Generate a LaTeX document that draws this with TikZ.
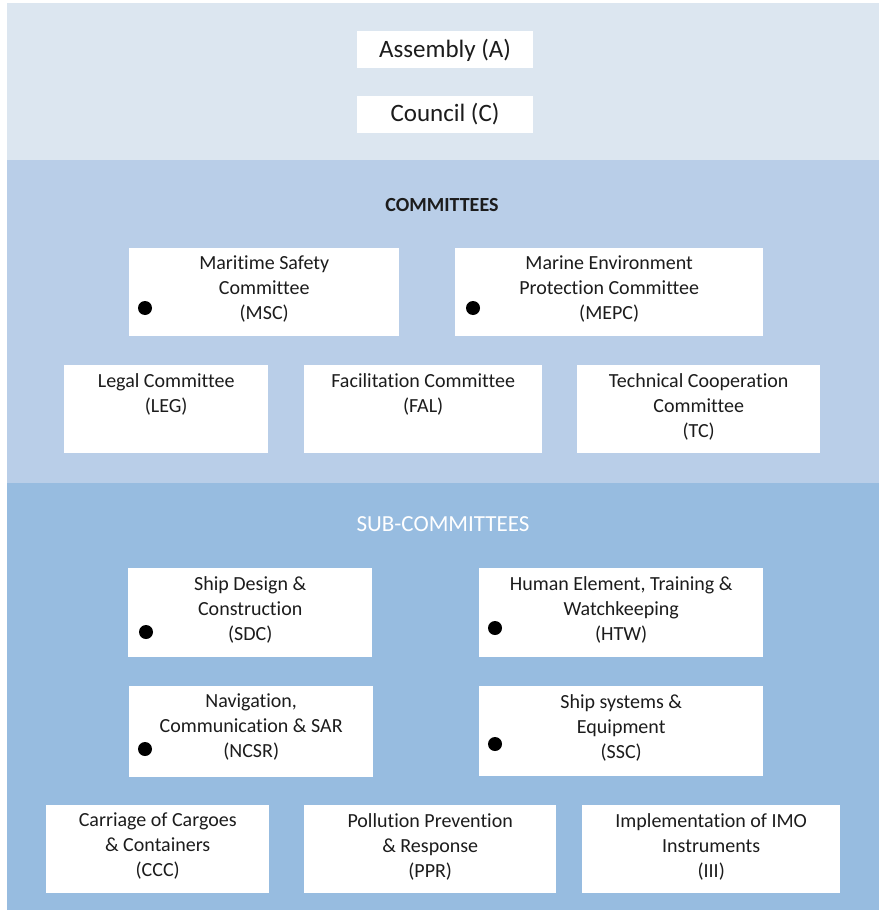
\documentclass[tikz,border=0pt]{standalone}
\usepackage{fontspec}
\setmainfont{Carlito}[Ligatures=NoCommon]
\usepackage{tikz}
\usetikzlibrary{positioning}
\definecolor{bandtop}{RGB}{220,230,240}
\definecolor{bandmid}{RGB}{185,206,232}
\definecolor{bandlow}{RGB}{151,188,224}
\definecolor{ink}{RGB}{28,28,28}
\tikzset{
  unit/.style={fill=white, inner sep=0pt, anchor=north west},
  unittext/.style={anchor=north, inner sep=0pt, align=center, text=ink,
    font=\fontsize{20}{25}\selectfont, yshift=-8pt},
  topunit/.style={fill=white, inner sep=0pt, text=ink, minimum width=176pt,
    minimum height=37pt, font=\fontsize{25}{29}\selectfont},
  dot/.style={circle, fill=black, inner sep=0pt, minimum size=14pt},
  heading/.style={font=\fontsize{20}{24}\selectfont\bfseries, text=ink},
  subheading/.style={font=\fontsize{23}{27}\selectfont, text=white}
}

\begin{document}
\begin{tikzpicture}[x=1pt, y=-1pt]
	\useasboundingbox (0,0) rectangle (879,915);
	% the three bands
	\fill[bandtop] (7,3) rectangle (879,160);
	\fill[bandmid] (7,160) rectangle (879,483);
	\fill[bandlow] (7,483) rectangle (879,910);

	\node[topunit] (assembly) at (445,50) {Assembly (A)};
	\node[topunit, below = 27pt of assembly] (council) {Council (C)};

	% committees
	\node[heading] (committees) at (442,205) {COMMITTEES};
	\node[unit, minimum width=270pt, minimum height=88pt] (msc) at (129,248) {};
	\node[unit, minimum width=308pt, minimum height=88pt] (mepc) at (455,248) {};
	\node[unit, minimum width=204pt, minimum height=88pt] (leg) at (64,365) {};
	\node[unit, minimum width=238pt, minimum height=88pt] (fal) at (304,365) {};
	\node[unit, minimum width=243pt, minimum height=88pt] (tc) at (577,365) {};
	\node[unittext] (msc-t) at (msc.north) {Maritime Safety\\Committee\\(MSC)};
	\node[unittext] (mepc-t) at (mepc.north) {Marine Environment\\Protection Committee\\(MEPC)};
	\node[unittext] (leg-t) at (leg.north) {Legal Committee\\(LEG)};
	\node[unittext] (fal-t) at (fal.north) {Facilitation Committee\\(FAL)};
	\node[unittext] (tc-t) at (tc.north) {Technical Cooperation\\Committee\\(TC)};
	\node[dot] (msc-dot) at (145,308) {};
	\node[dot] (mepc-dot) at (473,308) {};

	% sub-committees
	\node[subheading] (subcommittees) at (443,524) {SUB-COMMITTEES};
	\node[unit, minimum width=244pt, minimum height=89pt] (sdc) at (128,568) {};
	\node[unit, minimum width=284pt, minimum height=89pt] (htw) at (479,568) {};
	\node[unit, minimum width=244pt, minimum height=91pt] (ncsr) at (129,686) {};
	\node[unit, minimum width=284pt, minimum height=90pt] (ssc) at (479,686) {};
	\node[unit, minimum width=223pt, minimum height=88pt] (ccc) at (46,805) {};
	\node[unit, minimum width=252pt, minimum height=88pt] (ppr) at (304,805) {};
	\node[unit, minimum width=258pt, minimum height=88pt] (iii) at (582,805) {};
	\node[unittext] (sdc-t) at (sdc.north) {Ship Design \&\\Construction\\(SDC)};
	\node[unittext] (htw-t) at (htw.north) {Human Element, Training \&\\Watchkeeping\\(HTW)};
	\node[unittext] (ncsr-t) at (ncsr.north) {Navigation,\\Communication \& SAR\\(NCSR)};
	\node[unittext] (ssc-t) at (ssc.north) {Ship systems \&\\Equipment\\(SSC)};
	\node[unittext] (ccc-t) at (ccc.north) {Carriage of Cargoes\\\& Containers\\(CCC)};
	\node[unittext] (ppr-t) at (ppr.north) {Pollution Prevention\\\& Response\\(PPR)};
	\node[unittext] (iii-t) at (iii.north) {Implementation of IMO\\Instruments\\(III)};
	\node[dot] (sdc-dot) at (146,632) {};
	\node[dot] (htw-dot) at (495,628) {};
	\node[dot] (ncsr-dot) at (145,749) {};
	\node[dot] (ssc-dot) at (495,744) {};
\end{tikzpicture}
\end{document}
